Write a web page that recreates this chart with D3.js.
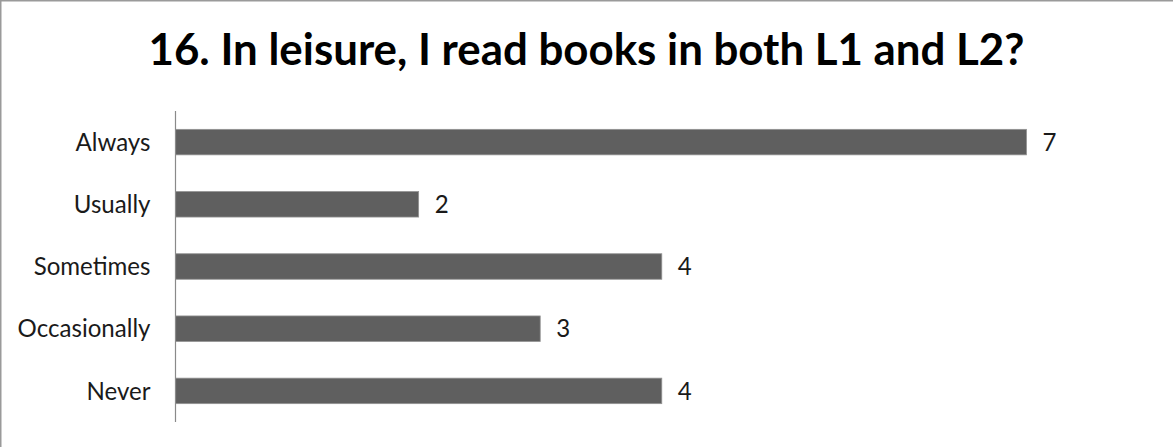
<!DOCTYPE html>
<html>
<head>
<meta charset="utf-8">
<script src="https://cdn.jsdelivr.net/npm/d3@7"></script>
<style>
  html, body { margin: 0; padding: 0; background: #fff; }
  svg { display: block; }
</style>
</head>
<body>
<script>
// Survey answers for question 16
const titleText = "16. In leisure, I read books in both L1 and L2?";
const categories = ["Always", "Usually", "Sometimes", "Occasionally", "Never"];
const counts = [7, 2, 4, 3, 4];

const W = 1173, H = 447;
const fontFamily = "Lato, 'Open Sans', 'Liberation Sans', sans-serif";

const svg = d3.select("body").append("svg")
  .attr("width", W).attr("height", H);

// frame edges (top and left)
svg.append("line").attr("x1", 0).attr("x2", W).attr("y1", 0.5).attr("y2", 0.5)
  .attr("stroke", "#9a9a9a").attr("stroke-width", 2);
svg.append("line").attr("x1", 0.5).attr("x2", 0.5).attr("y1", 0).attr("y2", H)
  .attr("stroke", "#9a9a9a").attr("stroke-width", 2);

// plot area
const plot = { left: 175.5, top: 111, bottom: 422 };
const x = d3.scaleLinear().domain([0, 7]).range([plot.left, 1026.5]);
const y = d3.scaleBand().domain(categories).range([plot.top, plot.bottom])
  .paddingInner(0.59).paddingOuter(0.295);

// title, sized to span its line
const title = svg.append("text")
  .attr("x", W / 2).attr("y", 65)
  .attr("text-anchor", "middle")
  .attr("font-family", fontFamily)
  .attr("font-weight", "bold")
  .attr("fill", "#000")
  .text(titleText);
let ts = 40;
title.attr("font-size", ts);
ts = ts * 876 / title.node().getComputedTextLength();
title.attr("font-size", ts);

// bars
svg.append("g").selectAll("rect")
  .data(categories)
  .join("rect")
  .attr("x", x(0))
  .attr("y", d => y(d))
  .attr("width", (d, i) => x(counts[i]) - x(0))
  .attr("height", y.bandwidth())
  .attr("fill", "#5f5f5f")
  .attr("stroke", "#929292")
  .attr("stroke-width", 0.8);

// category axis
const axis = svg.append("g")
  .attr("transform", `translate(${plot.left},0)`)
  .call(d3.axisLeft(y).tickSize(0).tickPadding(25));
axis.select(".domain").attr("stroke", "#8a8a8a").attr("stroke-width", 1.2)
  .attr("d", `M0,${plot.top}V${plot.bottom}`);

// label size chosen so the widest label spans 133px
const probe = svg.append("text").attr("font-family", fontFamily)
  .attr("font-size", 20).text("Occasionally");
const labelSize = 20 * 133 / probe.node().getComputedTextLength();
probe.remove();

axis.selectAll(".tick text")
  .attr("font-family", fontFamily)
  .attr("font-size", labelSize)
  .attr("fill", "#1a1a1a")
  .attr("dy", "0.36em");

// value labels
svg.append("g").selectAll("text")
  .data(categories)
  .join("text")
  .attr("x", (d, i) => x(counts[i]) + 16)
  .attr("y", d => y(d) + y.bandwidth() / 2)
  .attr("dy", "0.36em")
  .attr("font-family", fontFamily)
  .attr("font-size", labelSize)
  .attr("fill", "#1a1a1a")
  .text((d, i) => counts[i]);
</script>
</body>
</html>
